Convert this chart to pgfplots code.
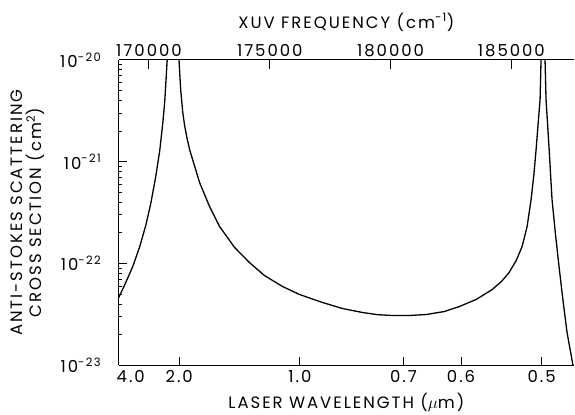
\documentclass[border=0pt]{standalone}
\usepackage{pgfplots}
\pgfplotsset{compat=1.18}
\usepackage{fontspec}
\setmainfont{Poppins}[LetterSpace=12]
\begin{document}
\begin{tikzpicture}[font=\fontsize{16.5}{18}\selectfont]
\path[use as bounding box] (-119pt,-49pt) rectangle (457pt,366pt);
% main axis: laser wavenumber (cm^-1) on x, cross section on y
\begin{axis}[
  at={(0pt,0pt)}, anchor=south west,
  scale only axis, width=456pt, height=306pt,
  xmin=2500, xmax=21343,
  ymode=log, ymin=1e-23, ymax=1e-20,
  axis x line*=bottom, axis y line*=left,
  axis line style={line width=1.2pt, -},
  tick style={line width=1pt, black},
  tick align=inside,
  major tick length=8pt,
  scaled x ticks=false,
  xtick={2500,5000,10000,14286,16667,20000},
  xticklabels={\hspace*{24pt}4.0,2.0,1.0,0.7,0.6,0.5},
  xticklabel style={yshift=-1pt},
  ytick={1e-23,1e-22,1e-21,1e-20},
  yticklabels={10\textsuperscript{-23},10\textsuperscript{-22},10\textsuperscript{-21},10\textsuperscript{-20}},
  yticklabel style={xshift=-14pt},
  minor tick num=0,
  xlabel={LASER WAVELENGTH ($\mu$m)},
  xlabel style={at={(axis description cs:0.5,-0.121)}, anchor=center},
  ylabel={ANTI-STOKES SCATTERING\\CROSS SECTION (cm\textsuperscript{2})},
  ylabel style={at={(axis description cs:-0.2007,0.5)}, anchor=center,
    align=center, font=\fontsize{16.5}{19}\selectfont},
  clip=true,
]
\addplot[black, line width=1.3pt, line join=round] coordinates {
  (2500,4.64e-23) (2789,6.52e-23) (3078,9.35e-23) (3368,1.47e-22)
  (3616,2.36e-22) (3822,3.87e-22) (4029,7.13e-22) (4194,1.28e-21)
  (4318,2.36e-21) (4401,3.87e-21) (4504,1.0e-20) (4580,2.2e-20)
  (4950,2.2e-20) (4992,1.0e-20) (5062,5.08e-21) (5145,3.09e-21)
  (5227,2.25e-21) (5330,1.68e-21) (5434,1.31e-21)
  (5847,6.22e-22) (6260,3.62e-22) (6673,2.31e-22)
  (7293,1.44e-22) (7913,1.02e-22) (8533,7.62e-23) (9276,5.96e-23)
  (9979,4.97e-23) (10929,4.15e-23) (11756,3.62e-23) (12582,3.31e-23)
  (13200,3.15e-23) (13822,3.09e-23) (14524,3.09e-23) (15227,3.16e-23)
  (15971,3.38e-23) (16590,3.78e-23) (17293,4.44e-23) (17954,5.56e-23)
  (18350,6.7e-23) (18656,8.17e-23) (18950,1.07e-22) (19194,1.47e-22)
  (19400,2.3e-22) (19566,4.24e-22) (19680,7.4e-22) (19773,1.31e-21)
  (19855,2.31e-21) (19938,4.06e-21) (19979,1.0e-20) (20010,2.2e-20)
  (20130,2.2e-20) (20144,1.0e-20) (20186,4.06e-21) (20300,1.5e-21)
  (20434,4.24e-22) (20580,1.9e-22) (20723,9.35e-23) (20890,4.3e-23)
  (21054,2.11e-23) (21302,1.0e-23) (21340,7.9e-24)
};
\end{axis}
% top axis: XUV frequency (cm^-1)
\begin{axis}[
  at={(0pt,0pt)}, anchor=south west,
  scale only axis, width=456pt, height=306pt,
  xmin=168750, xmax=187593, ymin=0, ymax=1,
  axis x line*=top, hide y axis,
  axis line style={line width=1.2pt, -},
  tick style={line width=1pt, black},
  tick align=inside,
  major tick length=9pt,
  scaled x ticks=false,
  xtick={170000,175000,180000,185000},
  xticklabels={170000,175000,180000,185000},
  xlabel={XUV FREQUENCY (cm\textsuperscript{-1})},
  xlabel style={at={(axis description cs:0.5,1.124)}, anchor=center},
]
\end{axis}
\end{tikzpicture}
\end{document}
